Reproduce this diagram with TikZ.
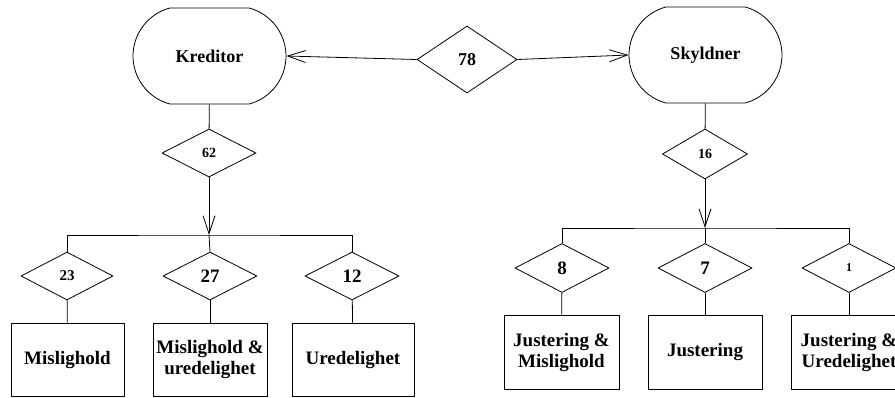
\documentclass[tikz,border=0pt]{standalone}
\usepackage{fontspec}
\setmainfont{Liberation Serif}
\usetikzlibrary{positioning,shapes.geometric,shapes.misc,arrows.meta}

\begin{document}
\begin{tikzpicture}[x=1pt,y=-1pt,line width=0.8pt,
every node/.style={draw,align=center,inner sep=0pt,font=\bfseries\fontsize{19}{21}\selectfont},
part/.style={rounded rectangle,rounded rectangle arc length=150,minimum width=153pt,minimum height=96pt,font=\bfseries\fontsize{18}{20}\selectfont},
rel/.style={diamond,minimum width=94pt,minimum height=48pt},
kat/.style={rectangle,minimum width=114pt,minimum height=74pt}]
\useasboundingbox (0,0) rectangle (895,397);

\node[part] (v1) at (209.5,56) {Kreditor};
\node[part] (v2) at (705.5,55) {Skyldner};
\node[rel,minimum width=100pt,minimum height=67pt,font=\bfseries\fontsize{18}{20}\selectfont] (v0) at (467,59.5) {78};

\draw[->,>={Straight Barb[length=18pt,width=12pt]}] (v0.west) to (v1.east);
\draw[->,>={Straight Barb[length=18pt,width=12pt]}] (v0.east) to (v2.west);

% kreditor
\node[rel,font=\bfseries\fontsize{14}{16}\selectfont] (k0) at (209,153) {62};
\coordinate (kb) at (209,235);
\node[rel,minimum width=92pt,font=\bfseries\fontsize{15}{16}\selectfont] (k1) at (67,276) {23};
\node[rel,font=\bfseries\fontsize{19}{20}\selectfont] (k2) at (210,276) {27};
\node[rel,font=\bfseries\fontsize{19}{20}\selectfont] (k3) at (352,276) {12};
\node[kat,minimum width=113pt,minimum height=73pt] (kk1) at (67.5,359.5) {Mislighold};
\node[kat,minimum height=73pt] (kk2) at (210,359.5) {Mislighold \&\\uredelighet};
\node[kat,minimum width=122pt,minimum height=73pt] (kk3) at (353,359.5) {Uredelighet};

\draw (v1) to (k0);
\draw[->,>={Straight Barb[length=18pt,width=12pt]}] (k0) to (kb);
\draw (k1.north) |- (kb) -| (k3.north);
\draw (kb) to (k2.north);
\draw (k1) to (kk1);
\draw (k2) to (kk2);
\draw (k3) to (kk3);

% skyldner
\node[rel,minimum width=85pt,minimum height=50pt,font=\bfseries\fontsize{14}{16}\selectfont] (s0) at (705,154) {16};
\coordinate (sb) at (705,228);
\node[rel,minimum height=49pt,font=\bfseries\fontsize{19}{20}\selectfont] (s1) at (562,268) {8};
\node[rel,minimum height=49pt,font=\bfseries\fontsize{19}{20}\selectfont] (s2) at (705,268) {7};
\node[rel,minimum height=49pt,font=\bfseries\fontsize{12}{14}\selectfont] (s3) at (849,268) {1};
\node[kat,minimum width=115pt] (ss1) at (561.5,352) {Justering \&\\Mislighold};
\node[kat] (ss2) at (705,352) {Justering};
\node[kat,minimum width=116pt] (ss3) at (849,352) {Justering \&\\Uredelighet};

\draw (v2) to (s0);
\draw[->,>={Straight Barb[length=18pt,width=12pt]}] (s0) to (sb);
\draw (s1.north) |- (sb) -| (s3.north);
\draw (sb) to (s2.north);
\draw (s1) to (ss1);
\draw (s2) to (ss2);
\draw (s3) to (ss3);

\end{tikzpicture}
\end{document}
